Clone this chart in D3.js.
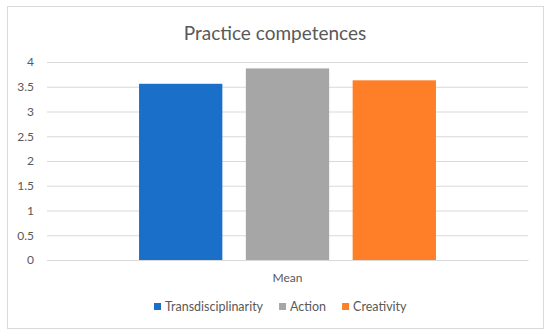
<!DOCTYPE html>
<html>
<head>
<meta charset="utf-8">
<script src="https://cdn.jsdelivr.net/npm/d3@7"></script>
<style>
  body { margin: 0; background: #fff; }
  text { font-family: Lato, "Open Sans", sans-serif; fill: #595959; }
</style>
</head>
<body>
<div id="wrapper"></div>
<script>
const categories = ['Mean']
const seriesNames = ['Transdisciplinarity', 'Action', 'Creativity']
const seriesValues = [3.56, 3.87, 3.63]
const seriesColors = ['#1a70c8', '#a6a6a6', '#fe7f27']
const yTicks = [0, 0.5, 1, 1.5, 2, 2.5, 3, 3.5, 4]

const dimensions = {
  width: 550,
  height: 335,
  margins: { top: 62, right: 22, bottom: 75, left: 47 },
}
dimensions.boundedWidth = dimensions.width - dimensions.margins.left - dimensions.margins.right
dimensions.boundedHeight = dimensions.height - dimensions.margins.top - dimensions.margins.bottom

const wrapper = d3.select('#wrapper')
  .append('svg')
    .attr('width', dimensions.width)
    .attr('height', dimensions.height)

// chart area border
wrapper.append('rect')
    .attr('x', 7.5)
    .attr('y', 6.5)
    .attr('width', 536)
    .attr('height', 322)
    .attr('fill', '#fff')
    .attr('stroke', '#d9d9d9')

wrapper.append('text')
    .attr('x', dimensions.width / 2)
    .attr('y', 40)
    .attr('text-anchor', 'middle')
    .style('font-size', '19px')
    .text('Practice competences')

const bounds = wrapper.append('g')
    .attr('transform', `translate(${dimensions.margins.left}, ${dimensions.margins.top})`)

const yScale = d3.scaleLinear()
    .domain([0, 4])
    .range([dimensions.boundedHeight, 0])

const x0Scale = d3.scaleBand()
    .domain(categories)
    .range([0, dimensions.boundedWidth])
    .paddingInner(0)
    .paddingOuter(0.31)

const x1Scale = d3.scaleBand()
    .domain(seriesNames)
    .range([0, x0Scale.bandwidth()])
    .paddingInner(0.22)
    .paddingOuter(0)

// gridlines
const yAxisGenerator = d3.axisLeft(yScale)
    .tickValues(yTicks)
    .tickSize(-dimensions.boundedWidth)
    .tickPadding(13)
    .tickFormat(d3.format('~g'))

const yAxis = bounds.append('g')
    .call(yAxisGenerator)
yAxis.select('.domain').remove()
yAxis.selectAll('line').attr('stroke', '#d9d9d9')
yAxis.selectAll('text')
    .style('font-size', '12px')
    .style('font-family', 'Lato, sans-serif')
    .attr('fill', '#595959')

// bars
const barGroups = bounds.selectAll('.cat')
  .data(categories)
  .join('g')
    .attr('class', 'cat')
    .attr('transform', d => `translate(${x0Scale(d)}, 0)`)

barGroups.selectAll('rect')
  .data(seriesNames.map((name, i) => ({ name, value: seriesValues[i], color: seriesColors[i] })))
  .join('rect')
    .attr('x', d => x1Scale(d.name))
    .attr('y', d => yScale(d.value))
    .attr('width', x1Scale.bandwidth())
    .attr('height', d => dimensions.boundedHeight - yScale(d.value))
    .attr('fill', d => d.color)

// x axis
const xAxis = bounds.append('g')
    .attr('transform', `translate(0, ${dimensions.boundedHeight})`)
    .call(d3.axisBottom(x0Scale).tickSize(0).tickPadding(13))
xAxis.select('.domain').attr('stroke', '#d9d9d9')
xAxis.selectAll('text')
    .style('font-size', '12px')
    .style('font-family', 'Lato, sans-serif')
    .attr('fill', '#595959')

// legend
const legend = wrapper.append('g')
    .attr('transform', 'translate(0, 307)')

const legendEntries = legend.selectAll('g')
  .data(seriesNames)
  .join('g')

let cursor = 154
legendEntries.each(function (name, i) {
  const g = d3.select(this)
  g.append('rect')
      .attr('x', cursor)
      .attr('y', -4)
      .attr('width', 7)
      .attr('height', 7)
      .attr('fill', seriesColors[i])
  const t = g.append('text')
      .attr('x', cursor + 11)
      .attr('y', 4)
      .style('font-size', '12.5px')
      .text(name)
  cursor += 11 + t.node().getComputedTextLength() + 16
})
</script>
</body>
</html>
